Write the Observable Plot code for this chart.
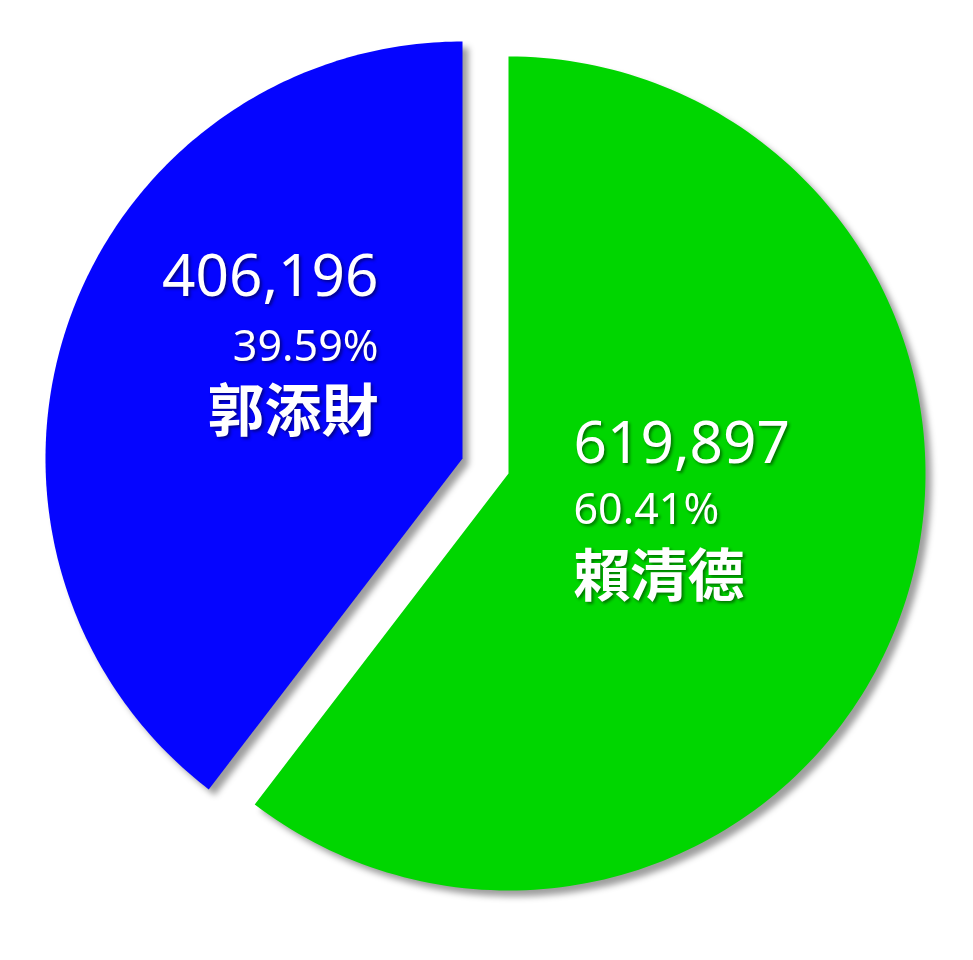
<!DOCTYPE html>
<html>
<head>
<meta charset="utf-8">
<script src="https://cdn.jsdelivr.net/npm/d3@7"></script>
<script src="https://cdn.jsdelivr.net/npm/@observablehq/plot@0.6"></script>
<style>
  html, body { margin: 0; padding: 0; background: #fff; }
  #chart svg { display: block; }
</style>
</head>
<body>
<div id="chart"></div>
<script>
// ---- data ----
const candidates = ["賴清德", "郭添財"];
const votes = [619897, 406196];
const percentLabels = ["60.41%", "39.59%"];
const sliceColors = ["#00d600", "#0505ff"];

// ---- layout (not data) ----
const W = 973, H = 960;
const center = [485, 465];
const radius = 417;
const explode = { "賴清德": [23, 8], "郭添財": [-23, -7] };
// label block anchors relative to each slice centre
const labelLayout = {
  "賴清德": { dx: 65, anchor: "start", num: -11, pct: 50, name: 122 },
  "郭添財": { dx: -84, anchor: "end", num: -163, pct: -98, name: -28 }
};

const pie = d3.pie().sort(null).value(d => d.votes)(
  candidates.map((c, i) => ({ name: c, votes: votes[i], pct: percentLabels[i] }))
);

const arcPoints = [];
for (const s of pie) {
  const [ox, oy] = explode[s.data.name];
  const cx = center[0] + ox, cy = center[1] + oy;
  arcPoints.push({ name: s.data.name, x: cx, y: cy });
  const n = 180;
  for (let k = 0; k <= n; k++) {
    const a = s.startAngle + (s.endAngle - s.startAngle) * k / n;
    arcPoints.push({ name: s.data.name, x: cx + radius * Math.sin(a), y: cy - radius * Math.cos(a) });
  }
}

const labels = [];
for (const s of pie) {
  const name = s.data.name;
  const [ox, oy] = explode[name];
  const cx = center[0] + ox, cy = center[1] + oy;
  const L = labelLayout[name];
  labels.push({ kind: "num", text: d3.format(",")(s.data.votes), x: cx + L.dx, y: cy + L.num, anchor: L.anchor });
  labels.push({ kind: "pct", text: s.data.pct, x: cx + L.dx, y: cy + L.pct, anchor: L.anchor });
  labels.push({ kind: "name", text: name, x: cx + L.dx, y: cy + L.name, anchor: L.anchor });
}

const font = "'Noto Sans', 'Noto Sans CJK TC', sans-serif";
const cjk = "'Noto Sans CJK TC', sans-serif";
const sizes = { num: 58.5, pct: 43, name: 57 };
const textMarks = [];
for (const kind of ["num", "pct", "name"]) {
  for (const anchor of ["start", "end"]) {
    textMarks.push(Plot.text(labels.filter(d => d.kind === kind && d.anchor === anchor), {
      x: "x", y: "y", text: "text",
      textAnchor: anchor, lineAnchor: "bottom",
      fontSize: sizes[kind],
      fontWeight: kind === "name" ? "bold" : "normal",
      fontFamily: kind === "name" ? cjk : font,
      fill: "white",
      className: "lbl"
    }));
  }
}

const chart = Plot.plot({
  width: W, height: H,
  margin: 0,
  x: { domain: [0, W], range: [0, W], axis: null },
  y: { domain: [0, H], range: [0, H], axis: null },
  color: { domain: candidates, range: sliceColors },
  style: { background: "white", fontFamily: font },
  marks: [
    Plot.line(arcPoints, { x: "x", y: "y", z: "name", fill: "name", stroke: "none", curve: "linear-closed", className: "slice" }),
    ...textMarks
  ]
});

d3.select(chart).selectAll(".slice path").style("filter", "drop-shadow(6px 6px 3px rgba(0,0,0,0.38))");
d3.select(chart).selectAll(".lbl text").style("filter", "drop-shadow(2px 2px 1.5px rgba(0,0,0,0.45))");
document.getElementById("chart").append(chart);
</script>
</body>
</html>
